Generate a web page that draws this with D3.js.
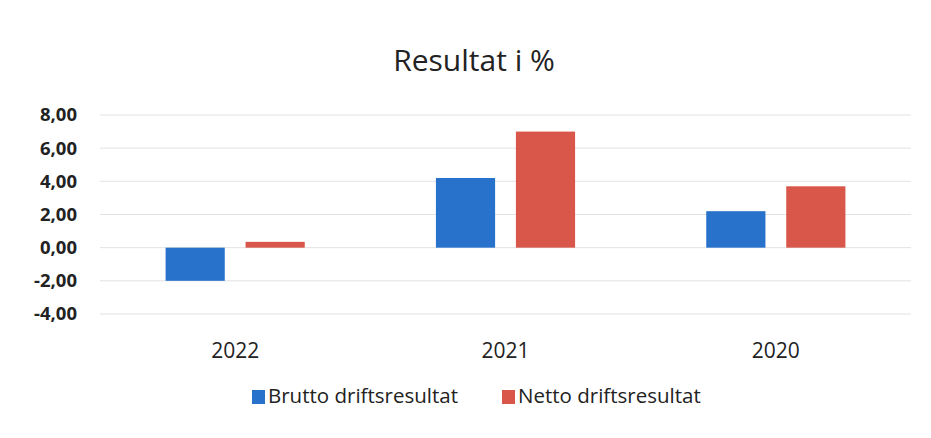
<!DOCTYPE html>
<html>
<head>
<meta charset="utf-8">
<script src="https://cdn.jsdelivr.net/npm/d3@7"></script>
<style>
  body { margin: 0; background: #fff; }
  svg { display: block; font-family: "Open Sans", "Noto Sans", sans-serif; }
</style>
</head>
<body>
<div id="chart"></div>
<script>
const years = ['2022', '2021', '2020'];
const seriesNames = ['Brutto driftsresultat', 'Netto driftsresultat'];
const brutto = [-2.0, 4.2, 2.2];
const netto = [0.35, 7.0, 3.7];
const yTicks = [-4, -2, 0, 2, 4, 6, 8];
const colors = ['#2872cc', '#d9574a'];

const width = 931, height = 438;
const margin = {top: 115, right: 20, bottom: 124, left: 100};

const svg = d3.select('#chart').append('svg')
  .attr('width', width)
  .attr('height', height);

const x = d3.scaleBand()
  .domain(years)
  .range([margin.left, width - margin.right])
  .paddingInner(0)
  .paddingOuter(0);

const xInner = d3.scaleBand()
  .domain(seriesNames)
  .range([0, x.bandwidth()])
  .paddingInner(0.26)
  .paddingOuter(0.82);

const y = d3.scaleLinear()
  .domain([-4, 8])
  .range([height - margin.bottom, margin.top]);

// title
svg.append('text')
  .attr('x', 474)
  .attr('y', 71)
  .attr('text-anchor', 'middle')
  .style('font-size', '30px')
  .style('fill', '#222')
  .text('Resultat i %');

// gridlines
svg.append('g')
  .selectAll('line')
  .data(yTicks)
  .join('line')
  .attr('x1', margin.left)
  .attr('x2', width - margin.right)
  .attr('y1', d => y(d))
  .attr('y2', d => y(d))
  .attr('stroke', '#e2e2e2')
  .attr('stroke-width', 1);

// y axis labels
const yAxis = d3.axisLeft(y)
  .tickValues(yTicks)
  .tickSize(0)
  .tickPadding(23)
  .tickFormat(d => d3.format('.2f')(d).replace('.', ',').replace('−', '-'));

svg.append('g')
  .attr('transform', `translate(${margin.left},0)`)
  .call(yAxis)
  .call(g => g.select('.domain').remove())
  .selectAll('text')
  .style('font-family', '"Open Sans", sans-serif')
  .style('font-size', '18.5px')
  .style('font-weight', 'bold')
  .style('fill', '#222');

// bars
const data = years.map((yr, i) => ({year: yr, values: [brutto[i], netto[i]]}));

const groups = svg.append('g')
  .selectAll('g')
  .data(data)
  .join('g')
  .attr('transform', d => `translate(${x(d.year)},0)`);

groups.selectAll('rect')
  .data(d => d.values.map((v, j) => ({name: seriesNames[j], value: v, idx: j})))
  .join('rect')
  .attr('x', d => xInner(d.name))
  .attr('width', xInner.bandwidth())
  .attr('y', d => y(Math.max(0, d.value)))
  .attr('height', d => Math.abs(y(d.value) - y(0)))
  .attr('fill', d => colors[d.idx]);

// x axis labels
const xAxis = d3.axisBottom(x).tickSize(0).tickPadding(0);
svg.append('g')
  .attr('transform', `translate(0,${height - margin.bottom + 44})`)
  .call(xAxis)
  .call(g => g.select('.domain').remove())
  .selectAll('text')
  .style('font-family', '"Open Sans", sans-serif')
  .style('font-size', '21px')
  .style('fill', '#222')
  .attr('dy', 0);

// legend
const legendX = [252, 502];
const legend = svg.append('g')
  .selectAll('g')
  .data(seriesNames)
  .join('g')
  .attr('transform', (d, i) => `translate(${legendX[i]},403)`);

legend.append('rect')
  .attr('x', 0)
  .attr('y', -13)
  .attr('width', 13)
  .attr('height', 14)
  .attr('fill', (d, i) => colors[i]);

legend.append('text')
  .attr('x', 16)
  .attr('y', 0)
  .style('font-size', '20.5px')
  .style('fill', '#222')
  .text(d => d);
</script>
</body>
</html>
